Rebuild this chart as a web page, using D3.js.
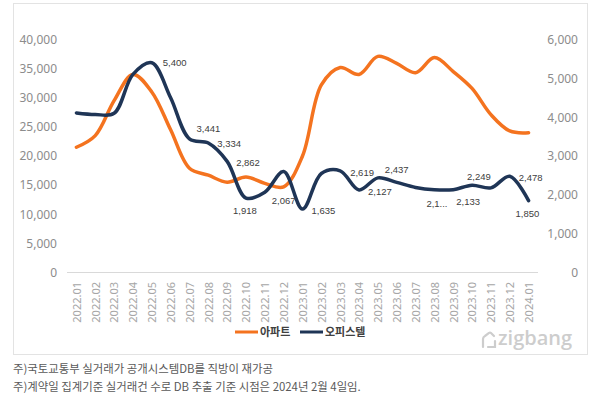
<!DOCTYPE html>
<html>
<head>
<meta charset="utf-8">
<script src="https://cdn.jsdelivr.net/npm/d3@7"></script>
<style>
  body { margin: 0; background: #fff; }
  text { font-family: "Noto Sans", "Noto Sans CJK KR", sans-serif; }
</style>
</head>
<body>
<div id="chart"></div>
<script>
(function() {
    // Data
    var months = ["2022.01","2022.02","2022.03","2022.04","2022.05","2022.06","2022.07","2022.08",
        "2022.09","2022.10","2022.11","2022.12","2023.01","2023.02","2023.03","2023.04","2023.05",
        "2023.06","2023.07","2023.08","2023.09","2023.10","2023.11","2023.12","2024.01"];
    var apartment = [21500, 23500, 29500, 34000, 31000, 24500, 17900, 16700, 15500, 16400, 15300, 14700,
        20000, 32200, 35200, 34000, 37100, 35900, 34300, 36900, 34500, 31600, 27100, 24300, 24000];
    var officetel = [4110, 4070, 4100, 5100, 5400, 4500, 3441, 3334, 2862, 1918, 2067, 2600,
        1635, 2550, 2619, 2127, 2437, 2320, 2190, 2130, 2133, 2249, 2180, 2478, 1850];
    // months that carry a value label, and the label text shown
    var labelMonths = ["2022.05","2022.07","2022.08","2022.09","2022.10","2022.11","2023.01","2023.03",
        "2023.04","2023.05","2023.08","2023.09","2023.10","2023.12","2024.01"];
    var labelTexts = ["5,400","3,441","3,334","2,862","1,918","2,067","1,635","2,619",
        "2,127","2,437","2,1...","2,133","2,249","2,478","1,850"];
    var leftTicks = [0, 5000, 10000, 15000, 20000, 25000, 30000, 35000, 40000];
    var rightTicks = [0, 1000, 2000, 3000, 4000, 5000, 6000];
    var seriesNames = ["아파트", "오피스텔"];
    var notes = ["주)국토교통부 실거래가 공개시스템DB를 직방이 재가공",
        "주)계약일 집계기준 실거래건 수로 DB 추출 기준 시점은 2024년 2월 4일임."];

    // label offsets (left edge / vertical centre relative to the point)
    var labelOffsets = [[11,0],[7,-10],[9,1],[9,1],[-13,13],[7,8],[9,2],[10,2],
        [9,2],[7,-8],[-8,14],[3,12],[-5,-8],[9,1],[-13,13]];

    var W = 590, H = 399;
    var orange = "#F4731F", navy = "#1F3556";

    var svg = d3.select("#chart").append("svg")
        .attr("width", W).attr("height", H);

    // frame
    svg.append("rect")
        .attr("x", 13.5).attr("y", 3.5)
        .attr("width", 574).attr("height", 351)
        .attr("fill", "none").attr("stroke", "#e3e3e3");

    var x = d3.scalePoint().domain(months).range([67, 538]).padding(0.5);
    var yL = d3.scaleLinear().domain([0, 40000]).range([272.5, 39.5]);
    var yR = d3.scaleLinear().domain([0, 6000]).range([272.5, 39.5]);

    var fmt = d3.format(",");

    // left axis
    var axL = svg.append("g").attr("transform", "translate(57,0)")
        .call(d3.axisLeft(yL).tickValues(leftTicks).tickFormat(fmt).tickSize(0).tickPadding(0));
    // right axis
    var axR = svg.append("g").attr("transform", "translate(578,0)")
        .call(d3.axisLeft(yR).tickValues(rightTicks).tickFormat(fmt).tickSize(0).tickPadding(0));
    [axL, axR].forEach(function(g) {
        g.select(".domain").remove();
        g.selectAll("text").attr("fill", "#8c8c8c").style("font-size", "12px");
    });

    // baseline
    svg.append("line")
        .attr("x1", 67).attr("x2", 538)
        .attr("y1", 272.5).attr("y2", 272.5)
        .attr("stroke", "#d9d9d9");

    // x labels
    var axX = svg.append("g").attr("transform", "translate(0,282)")
        .call(d3.axisBottom(x).tickSize(0).tickPadding(0));
    axX.select(".domain").remove();
    axX.selectAll("text")
        .attr("transform", "rotate(-90)")
        .attr("x", 0).attr("y", 0).attr("dy", "0.35em")
        .attr("text-anchor", "end")
        .attr("fill", "#a6a6a6")
        .style("font-size", "11px");

    var line = function(scale) {
        return d3.line()
            .x(function(d, i) { return x(months[i]); })
            .y(function(d) { return scale(d); })
            .curve(d3.curveCatmullRom.alpha(0.5));
    };

    svg.append("path")
        .datum(apartment)
        .attr("d", line(yL))
        .attr("fill", "none").attr("stroke", orange)
        .attr("stroke-width", 3.5).attr("stroke-linecap", "round");

    svg.append("path")
        .datum(officetel)
        .attr("d", line(yR))
        .attr("fill", "none").attr("stroke", navy)
        .attr("stroke-width", 3.5).attr("stroke-linecap", "round");

    // value labels
    svg.selectAll(".vlabel")
        .data(labelMonths)
        .enter().append("text")
        .attr("class", "vlabel")
        .attr("x", function(m, i) { return x(m) + labelOffsets[i][0]; })
        .attr("y", function(m, i) { return yR(officetel[months.indexOf(m)]) + labelOffsets[i][1]; })
        .attr("dy", "0.35em")
        .attr("fill", "#404040")
        .style("font-size", "9.5px")
        .style("font-family", "'Liberation Sans', Arial, sans-serif")
        .text(function(m, i) { return labelTexts[i]; });

    // legend
    var legend = svg.append("g").attr("transform", "translate(0,332)");
    var legendItems = [{ name: seriesNames[0], color: orange, x: 235 },
                       { name: seriesNames[1], color: navy, x: 300 }];
    legendItems.forEach(function(d) {
        legend.append("line")
            .attr("x1", d.x).attr("x2", d.x + 23)
            .attr("y1", 0).attr("y2", 0)
            .attr("stroke", d.color).attr("stroke-width", 3);
        legend.append("text")
            .attr("x", d.x + 25).attr("y", 0).attr("dy", "0.35em")
            .attr("fill", "#404040")
            .style("font-size", "11px").style("font-weight", "bold")
            .style("font-family", "'Noto Sans CJK KR', sans-serif")
            .text(d.name);
    });

    // logo
    var logo = svg.append("g").attr("transform", "translate(482,331)");
    logo.append("path")
        .attr("d", "M1,16 L1,8 Q1,6 3,5 L7,2 Q8,1 9,2 L12,5")
        .attr("fill", "none").attr("stroke", "#cdcdcd")
        .attr("stroke-width", 2.2).attr("stroke-linecap", "round");
    logo.append("path")
        .attr("d", "M13,10 L13,16 L6,16")
        .attr("fill", "none").attr("stroke", "#cdcdcd")
        .attr("stroke-width", 2.2).attr("stroke-linecap", "round");
    logo.append("text")
        .attr("x", 16).attr("y", 14)
        .attr("fill", "#cdcdcd")
        .style("font-size", "20px").style("font-weight", "600")
        .style("font-family", "'Open Sans', sans-serif")
        .text("zigbang");

    // notes
    svg.selectAll(".note")
        .data(notes)
        .enter().append("text")
        .attr("class", "note")
        .attr("x", 13)
        .attr("y", function(d, i) { return 369 + i * 18; })
        .attr("dy", "0.35em")
        .attr("fill", "#595959")
        .style("font-size", "11.4px")
        .style("font-family", "'Noto Sans CJK KR', sans-serif")
        .text(function(d) { return d; });
})();
</script>
</body>
</html>
